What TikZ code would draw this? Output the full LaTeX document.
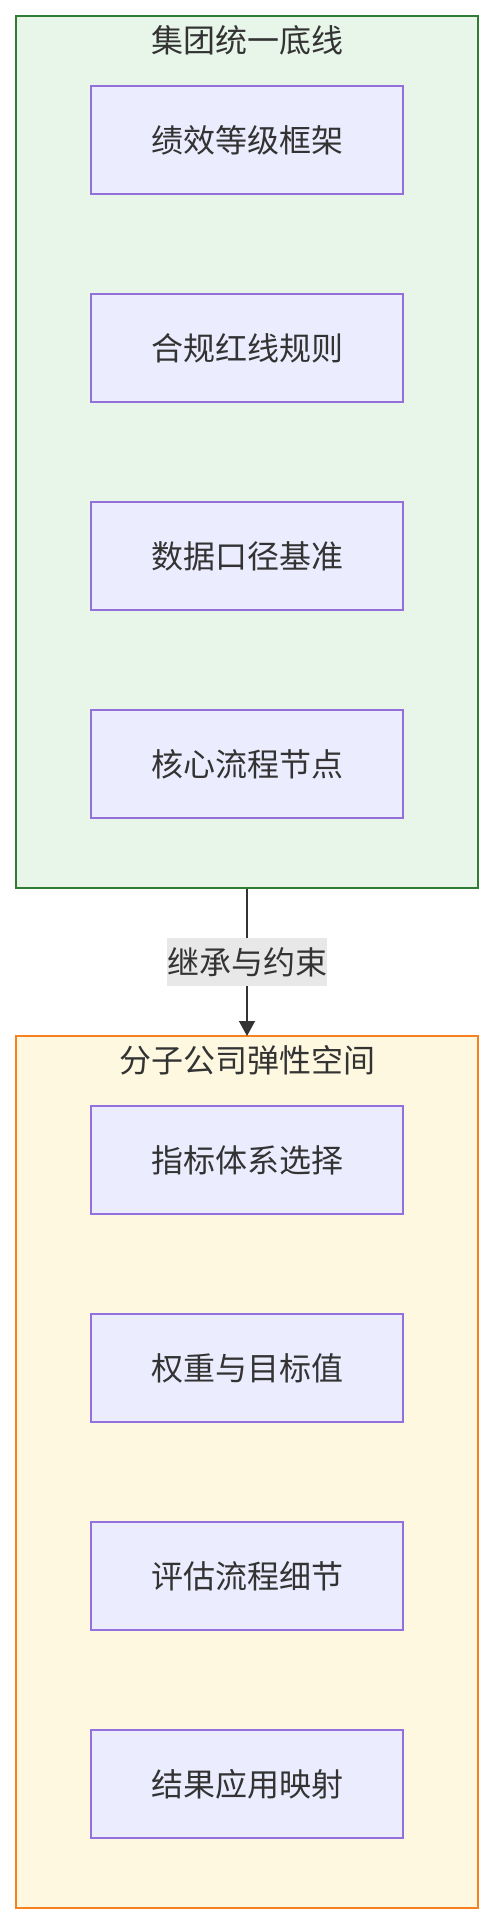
\documentclass[tikz,border=0pt]{standalone}
\usepackage{fontspec}
\newfontfamily\cjk{Noto Sans CJK SC}
\usetikzlibrary{arrows.meta}
\definecolor{txt}{HTML}{333333}
\definecolor{basefill}{HTML}{E8F5E9}
\definecolor{baseline}{HTML}{2E7D32}
\definecolor{flexfill}{HTML}{FFF8E1}
\definecolor{flexline}{HTML}{F5821F}
\definecolor{itemfill}{HTML}{ECECFF}
\definecolor{itemline}{HTML}{9370DB}
\definecolor{labelfill}{HTML}{E8E8E8}
\tikzset{
  x=1pt, y=-1pt,
  every node/.style={font=\cjk\fontsize{32pt}{38pt}\selectfont, text=txt},
  group/.style={draw, line width=2pt, minimum width=462pt, minimum height=872pt, inner sep=0pt},
  item/.style={draw=itemline, fill=itemfill, line width=1.8pt, minimum width=312pt, minimum height=108pt, inner sep=0pt},
  edgelabel/.style={fill=labelfill, inner sep=0pt, minimum height=48pt}
}
\begin{document}
\begin{tikzpicture}
    \useasboundingbox (0, 0) rectangle (494, 1924);
    \path (247, 452) node[group, fill=basefill, draw=baseline](base) {} (247, 40) node(basetitle) {集团统一底线};
    \path (247, 140) node[item](grade) {绩效等级框架} (247, 348) node[item](redline) {合规红线规则} (247, 556) node[item](datum) {数据口径基准} (247, 764) node[item](keyflow) {核心流程节点};
    \path (247, 1472) node[group, fill=flexfill, draw=flexline](flex) {} (247, 1060) node(flextitle) {分子公司弹性空间};
    \path (247, 1160) node[item](index) {指标体系选择} (247, 1368) node[item](weight) {权重与目标值} (247, 1576) node[item](evalflow) {评估流程细节} (247, 1784) node[item](mapping) {结果应用映射};
    \draw[txt, line width=1.5pt, -{Triangle[length=15pt, width=16pt]}, shorten >=-1pt] (base) -- node[edgelabel] {继承与约束} (flex);
    \end{tikzpicture}
\end{document}
